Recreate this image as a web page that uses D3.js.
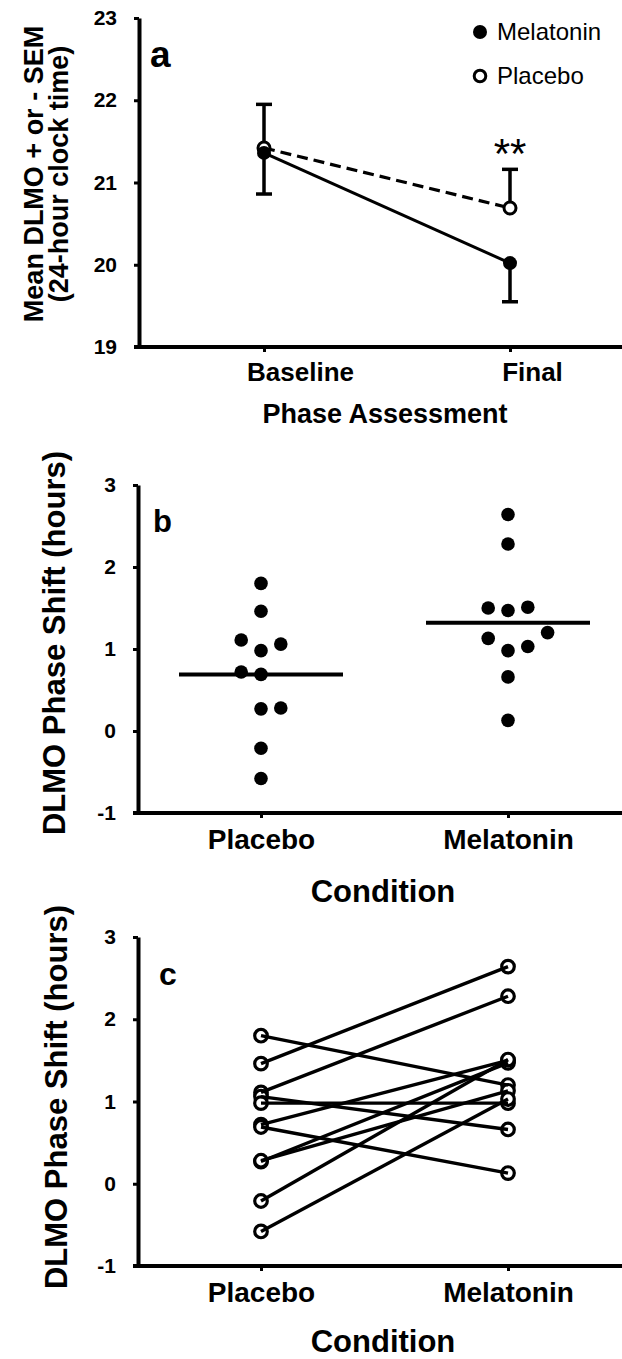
<!DOCTYPE html>
<html><head><meta charset="utf-8">
<script src="https://cdn.jsdelivr.net/npm/d3@7"></script>
<style>
body{margin:0;background:#fff}
svg{display:block}
text{font-family:'Liberation Sans',Arial,Helvetica,sans-serif;fill:#000}
</style>
</head><body>
<svg id="chart" width="622" height="1359"></svg>
<script>
// ---------- data ----------
const phases = ["Baseline", "Final"];
const melatoninMean = [21.36, 20.02];
const melatoninSEM  = [0.50, 0.47];
const placeboMean   = [21.42, 20.69];
const placeboSEM    = [0.53, 0.47];
const yTicksA = [19, 20, 21, 22, 23];

const conditions = ["Placebo", "Melatonin"];
// paired per subject (same index = same subject)
const placeboShift   = [1.80, 1.46, 1.11, 1.06, 0.98, 0.72, 0.69, 0.27, 0.28, -0.21, -0.58];
const melatoninShift = [1.20, 2.64, 2.28, 0.66, 0.98, 1.50, 0.13, 1.47, 1.13, 1.51, 1.03];
// dot-plot column (swarm) index for panel b
const placeboCol   = [0, 0, -1, 1, 0, -1, 0, 0, 1, 0, 0];
const melatoninCol = [2, 0, 0, 0, 0, -1, 0, 0, -1, 1, 1];
const yTicksShift = [-1, 0, 1, 2, 3];

// ---------- setup ----------
const svg = d3.select("#chart");
const BOLD = "bold";
const AX_W = 4;

function drawAxes(g, x, y, ticks, xLabelSize, xLabelDx, axisX) {
  const y0 = y.range()[0];
  const ya = g.append("g").attr("transform", `translate(${axisX},0)`)
    .call(d3.axisLeft(y).tickValues(ticks).tickSize(5).tickSizeOuter(0).tickPadding(17)
      .tickFormat(d => String(d)));
  ya.select(".domain").attr("stroke-width", AX_W).attr("stroke", "#000");
  ya.selectAll(".tick line").attr("stroke-width", 3).attr("stroke", "#000");
  ya.selectAll(".tick text").attr("font-size", 21).attr("font-weight", BOLD).attr("fill", "#000");
  g.append("line").attr("x1", axisX - 5).attr("x2", 622).attr("y1", y0).attr("y2", y0)
    .attr("stroke", "#000").attr("stroke-width", AX_W);
  const xa = g.append("g").attr("transform", `translate(0,${y0})`)
    .call(d3.axisBottom(x).tickSize(5).tickSizeOuter(0).tickPadding(0));
  xa.select(".domain").remove();
  xa.selectAll(".tick line").attr("stroke-width", 3).attr("stroke", "#000");
  xa.selectAll(".tick text").attr("font-size", xLabelSize).attr("font-weight", BOLD)
    .attr("fill", "#000").attr("dy", null).attr("y", xLabelSize * 1.3)
    .attr("dx", (d, i) => xLabelDx[i]);
}

// ---------- panel a ----------
{
  const g = svg.append("g");
  const x = d3.scalePoint().domain(phases).range([264, 510]);
  const y = d3.scaleLinear().domain([19, 23]).range([347, 18]);
  drawAxes(g, x, y, yTicksA, 26, [36, 22], 139);

  const mel = phases.map((p, i) => ({p, v: melatoninMean[i], e: melatoninSEM[i]}));
  const pla = phases.map((p, i) => ({p, v: placeboMean[i], e: placeboSEM[i]}));
  const line = d3.line().x(d => x(d.p)).y(d => y(d.v));

  const eb = (data, dir) => {
    const gg = g.append("g").attr("stroke", "#000").attr("stroke-width", 3.5);
    gg.selectAll("line.v").data(data).join("line")
      .attr("x1", d => x(d.p)).attr("x2", d => x(d.p))
      .attr("y1", d => y(d.v)).attr("y2", d => y(d.v + dir * d.e));
    gg.selectAll("line.c").data(data).join("line")
      .attr("x1", d => x(d.p) - 8).attr("x2", d => x(d.p) + 8)
      .attr("y1", d => y(d.v + dir * d.e)).attr("y2", d => y(d.v + dir * d.e));
  };
  eb(pla, 1); eb(mel, -1);

  g.append("path").datum(pla).attr("d", line).attr("fill", "none")
    .attr("stroke", "#000").attr("stroke-width", 3.2).attr("stroke-dasharray", "11,6");
  g.append("path").datum(mel).attr("d", line).attr("fill", "none")
    .attr("stroke", "#000").attr("stroke-width", 3);

  g.selectAll("circle.pla").data(pla).join("circle")
    .attr("cx", d => x(d.p)).attr("cy", d => y(d.v)).attr("r", 6)
    .attr("fill", "#fff").attr("stroke", "#000").attr("stroke-width", 3);
  g.selectAll("circle.mel").data(mel).join("circle")
    .attr("cx", d => x(d.p)).attr("cy", d => y(d.v)).attr("r", 7).attr("fill", "#000");

  g.append("text").attr("x", x("Final")).attr("y", 168).attr("text-anchor", "middle")
    .attr("font-size", 42).text("**");

  g.append("text").attr("x", 150).attr("y", 67).attr("font-size", 37).attr("font-weight", BOLD).text("a");

  const lg = g.append("g");
  lg.append("circle").attr("cx", 480).attr("cy", 32).attr("r", 7).attr("fill", "#000");
  lg.append("text").attr("x", 497).attr("y", 40).attr("font-size", 24).text("Melatonin");
  lg.append("circle").attr("cx", 480).attr("cy", 76).attr("r", 5.8)
    .attr("fill", "#fff").attr("stroke", "#000").attr("stroke-width", 3);
  lg.append("text").attr("x", 497).attr("y", 84).attr("font-size", 24).text("Placebo");

  g.append("text").attr("x", 385).attr("y", 423).attr("text-anchor", "middle")
    .attr("font-size", 27).attr("font-weight", BOLD).text("Phase Assessment");

  const yt = g.append("text").attr("transform", "translate(0,174) rotate(-90)")
    .attr("text-anchor", "middle").attr("font-size", 27).attr("font-weight", BOLD);
  yt.append("tspan").attr("x", 0).attr("y", 43).text("Mean DLMO + or - SEM");
  yt.append("tspan").attr("x", 0).attr("y", 68).text("(24-hour clock time)");
}

// ---------- panel b ----------
{
  const g = svg.append("g");
  const x = d3.scalePoint().domain(conditions).range([261, 508]);
  const y = d3.scaleLinear().domain([-1, 3]).range([813, 485]);
  drawAxes(g, x, y, yTicksShift, 28, [0, 0], 138);
  const colW = 19.8;
  const pts = [
    ...placeboShift.map((v, i) => ({c: "Placebo", v, k: placeboCol[i]})),
    ...melatoninShift.map((v, i) => ({c: "Melatonin", v, k: melatoninCol[i]}))
  ];
  g.selectAll("circle").data(pts).join("circle")
    .attr("cx", d => x(d.c) + d.k * colW).attr("cy", d => y(d.v)).attr("r", 6.8).attr("fill", "#000");
  const means = [
    {c: "Placebo", m: d3.mean(placeboShift)},
    {c: "Melatonin", m: d3.mean(melatoninShift)}
  ];
  g.selectAll("line.mean").data(means).join("line")
    .attr("x1", d => x(d.c) - 82).attr("x2", d => x(d.c) + 82)
    .attr("y1", d => y(d.m)).attr("y2", d => y(d.m))
    .attr("stroke", "#000").attr("stroke-width", 4);
  g.append("text").attr("x", 153).attr("y", 532).attr("font-size", 31).attr("font-weight", BOLD).text("b");
  g.append("text").attr("x", 383).attr("y", 902).attr("text-anchor", "middle")
    .attr("font-size", 31).attr("font-weight", BOLD).text("Condition");
  g.append("text").attr("transform", "translate(65,643) rotate(-90)").attr("text-anchor", "middle")
    .attr("font-size", 31).attr("font-weight", BOLD).text("DLMO Phase Shift (hours)");
}

// ---------- panel c ----------
{
  const g = svg.append("g");
  const x = d3.scalePoint().domain(conditions).range([261, 508]);
  const y = d3.scaleLinear().domain([-1, 3]).range([1266, 937]);
  drawAxes(g, x, y, yTicksShift, 28, [0, 0], 138);
  const pairs = placeboShift.map((v, i) => ({a: v, b: melatoninShift[i]}));
  const circ = [
    ...placeboShift.map(v => ({c: "Placebo", v})),
    ...melatoninShift.map(v => ({c: "Melatonin", v}))
  ];
  g.selectAll("circle").data(circ).join("circle")
    .attr("cx", d => x(d.c)).attr("cy", d => y(d.v)).attr("r", 6.3)
    .attr("fill", "#fff").attr("stroke", "#000").attr("stroke-width", 3.2);
  g.selectAll("line.pair").data(pairs).join("line")
    .attr("x1", x("Placebo")).attr("x2", x("Melatonin"))
    .attr("y1", d => y(d.a)).attr("y2", d => y(d.b))
    .attr("stroke", "#000").attr("stroke-width", 3.4);
  g.append("text").attr("x", 159).attr("y", 985).attr("font-size", 32).attr("font-weight", BOLD).text("c");
  g.append("text").attr("x", 383).attr("y", 1352).attr("text-anchor", "middle")
    .attr("font-size", 31).attr("font-weight", BOLD).text("Condition");
  g.append("text").attr("transform", "translate(67,1097) rotate(-90)").attr("text-anchor", "middle")
    .attr("font-size", 31).attr("font-weight", BOLD).text("DLMO Phase Shift (hours)");
}
</script>
</body></html>
